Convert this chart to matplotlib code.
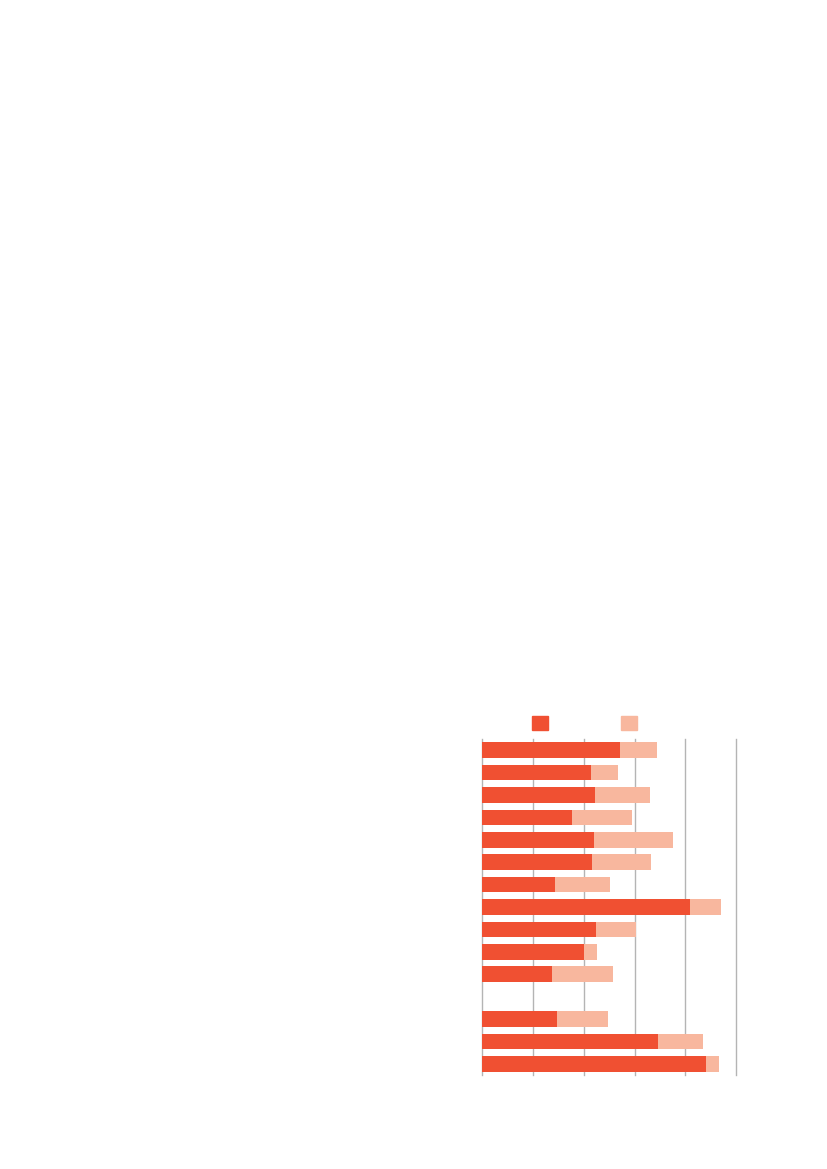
import matplotlib
matplotlib.use("Agg")
import matplotlib.pyplot as plt
from matplotlib.patches import Rectangle

# values (axis 0..50); None marks the empty slot
dark = [27.1, 21.4, 22.2, 17.7, 21.9, 21.6, 14.3, 40.9, 22.4, 20.0, 13.7, None, 14.7, 34.6, 44.0]
total = [34.3, 26.7, 33.0, 29.5, 37.5, 33.3, 25.1, 47.0, 30.3, 22.6, 25.8, None, 24.7, 43.4, 46.6]
ticks = [0, 10, 20, 30, 40, 50]

c_dark = "#F05032"
c_light = "#F8B79E"
c_grid = "#B4B4B4"

fig = plt.figure(figsize=(8.27, 11.69), dpi=100)
ax = fig.add_axes([0.5832, 0.0804, 0.3071, 0.2874])

for i, (d, t) in enumerate(zip(dark, total)):
    if d is None:
        continue
    ax.barh(i, d, height=0.70, color=c_dark, zorder=3)
    ax.barh(i, t - d, left=d, height=0.70, color=c_light, zorder=3)

ax.set_xlim(0, 50)
ax.set_ylim(len(dark) - 0.5, -0.5)
for t in ticks:
    ax.axvline(t, color=c_grid, linewidth=1.0, zorder=1, clip_on=False)

for s in ax.spines.values():
    s.set_visible(False)
ax.set_xticks([])
ax.set_yticks([])

# legend swatches
fig.add_artist(Rectangle((532.3 / 827, 1 - 729.7 / 1169), 16 / 827, 13.7 / 1169,
                         transform=fig.transFigure, color=c_dark))
fig.add_artist(Rectangle((621 / 827, 1 - 729.7 / 1169), 16 / 827, 13.7 / 1169,
                         transform=fig.transFigure, color=c_light))

fig.savefig("out.png", dpi=100)
